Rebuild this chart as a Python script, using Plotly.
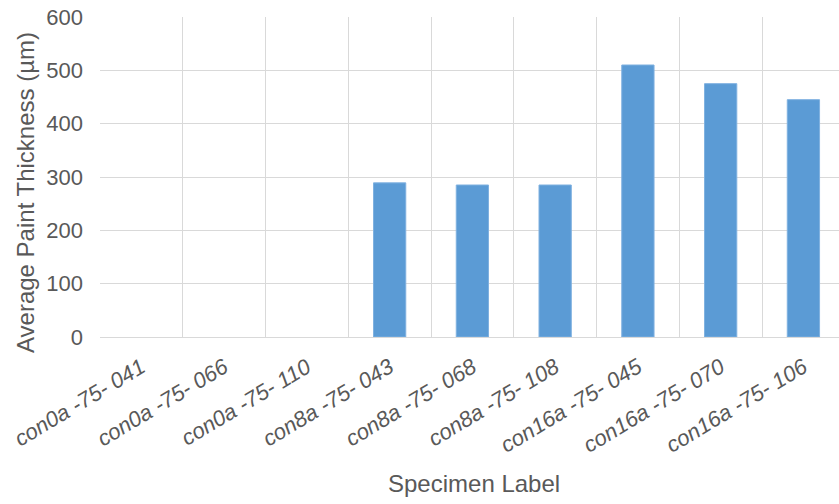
import plotly.graph_objects as go

specimens = [
    "con0a -75- 041", "con0a -75- 066", "con0a -75- 110",
    "con8a -75- 043", "con8a -75- 068", "con8a -75- 108",
    "con16a -75- 045", "con16a -75- 070", "con16a -75- 106",
]
thickness_um = [0, 0, 0, 289, 285, 285, 510, 475, 445]
y_ticks = [0, 100, 200, 300, 400, 500, 600]

text_color = "#595959"
grid_color = "#D9D9D9"
font_family = "Liberation Sans, Arial, sans-serif"

# light outline on bars that have height; none on empty specimens
edge_widths = [0 if v == 0 else 1 for v in thickness_um]

fig = go.Figure(
    go.Bar(
        x=specimens,
        y=thickness_um,
        width=0.39,
        marker=dict(color="#5B9BD5", line=dict(color="#7FB1E0", width=edge_widths)),
    )
)

fig.update_layout(
    width=839,
    height=504,
    margin=dict(l=100, r=0, t=17, b=167),
    paper_bgcolor="white",
    plot_bgcolor="white",
    showlegend=False,
    font=dict(family=font_family, size=22, color=text_color),
)

fig.update_xaxes(
    type="category",
    range=[-0.5, 8.43],
    tickson="boundaries",
    showgrid=True,
    gridcolor=grid_color,
    gridwidth=1,
    ticks="",
    tickangle=-31,
    ticklabelstandoff=8,
    tickfont=dict(family=font_family, size=22, color=text_color, style="italic"),
    showline=True,
    linecolor=grid_color,
)

fig.update_yaxes(
    range=[0, 600],
    tickvals=y_ticks,
    showgrid=True,
    gridcolor=grid_color,
    gridwidth=1,
    zeroline=False,
    showline=False,
    ticks="",
    ticklabelstandoff=16,
    tickfont=dict(family=font_family, size=22, color=text_color),
)

# axis titles placed as annotations so they sit where the chart frame centres them
fig.add_annotation(
    text="Average Paint Thickness (µm)",
    xref="paper", yref="paper",
    x=-0.1015, y=0.453,
    xanchor="center", yanchor="middle",
    textangle=-90,
    showarrow=False,
    font=dict(family=font_family, size=24, color=text_color),
)
fig.add_annotation(
    text="Specimen Label",
    xref="paper", yref="paper",
    x=0.506, y=-0.459,
    xanchor="center", yanchor="middle",
    showarrow=False,
    font=dict(family=font_family, size=24, color=text_color),
)

fig.write_html("out.html")
